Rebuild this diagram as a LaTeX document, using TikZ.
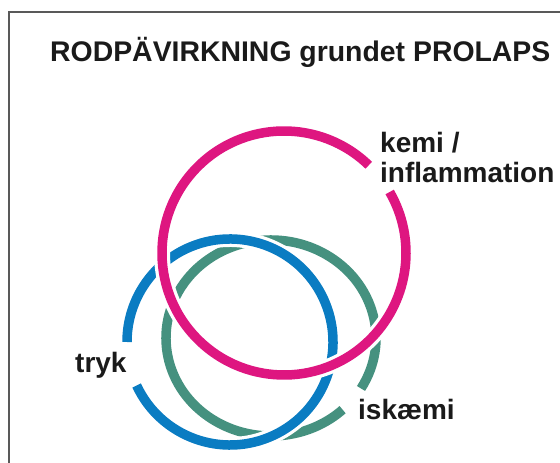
\documentclass[tikz,border=0pt]{standalone}
\usepackage{fontspec}
\setmainfont{Liberation Sans}
\definecolor{ringmag}{HTML}{DE1680}
\definecolor{ringblue}{HTML}{0A7CC2}
\definecolor{ringgreen}{HTML}{45917F}
\definecolor{inktext}{HTML}{1A1A1A}
\begin{document}
\begin{tikzpicture}[x=1pt,y=1pt,
  lbl/.style={anchor=base west,inner sep=0pt,font=\fontsize{28}{30}\selectfont\bfseries,text=inktext},
  ring/.style={line width=9.5pt},
  halo/.style={line width=16pt,white}]
\useasboundingbox (0,0) rectangle (560,463);
\draw[black!65,line width=1.5pt] (9,0) -- (9,451) -- (560,451);
% title
\node[lbl,font=\fontsize{28.4}{30}\selectfont\bfseries] (title) at (50,401) {RODPÄVIRKNING grundet PROLAPS};
% green ring (bottom layer)
\draw[ring,ringgreen] ([shift={(-31:105 and 98)}]271,125) arc[start angle=-31,end angle=313,x radius=105,y radius=98];
% blue ring
\draw[halo] ([shift={(205:103)}]230,121) arc[start angle=205,end angle=540,radius=103];
\draw[ring,ringblue] ([shift={(205:103)}]230,121) arc[start angle=205,end angle=540,radius=103];
% magenta ring (top layer)
\draw[halo] ([shift={(46:122)}]284,210) arc[start angle=46,end angle=390,radius=122];
\draw[ring,ringmag] ([shift={(46:122)}]284,210) arc[start angle=46,end angle=390,radius=122];
% labels
\node[lbl] (kemi) at (380,310) {kemi /};
\node[lbl] (infl) at (380,280) {inflammation};
\node[lbl] (tryk) at (75,90) {tryk};
\node[lbl] (iskaemi) at (358,43) {iskæmi};
\end{tikzpicture}
\end{document}
